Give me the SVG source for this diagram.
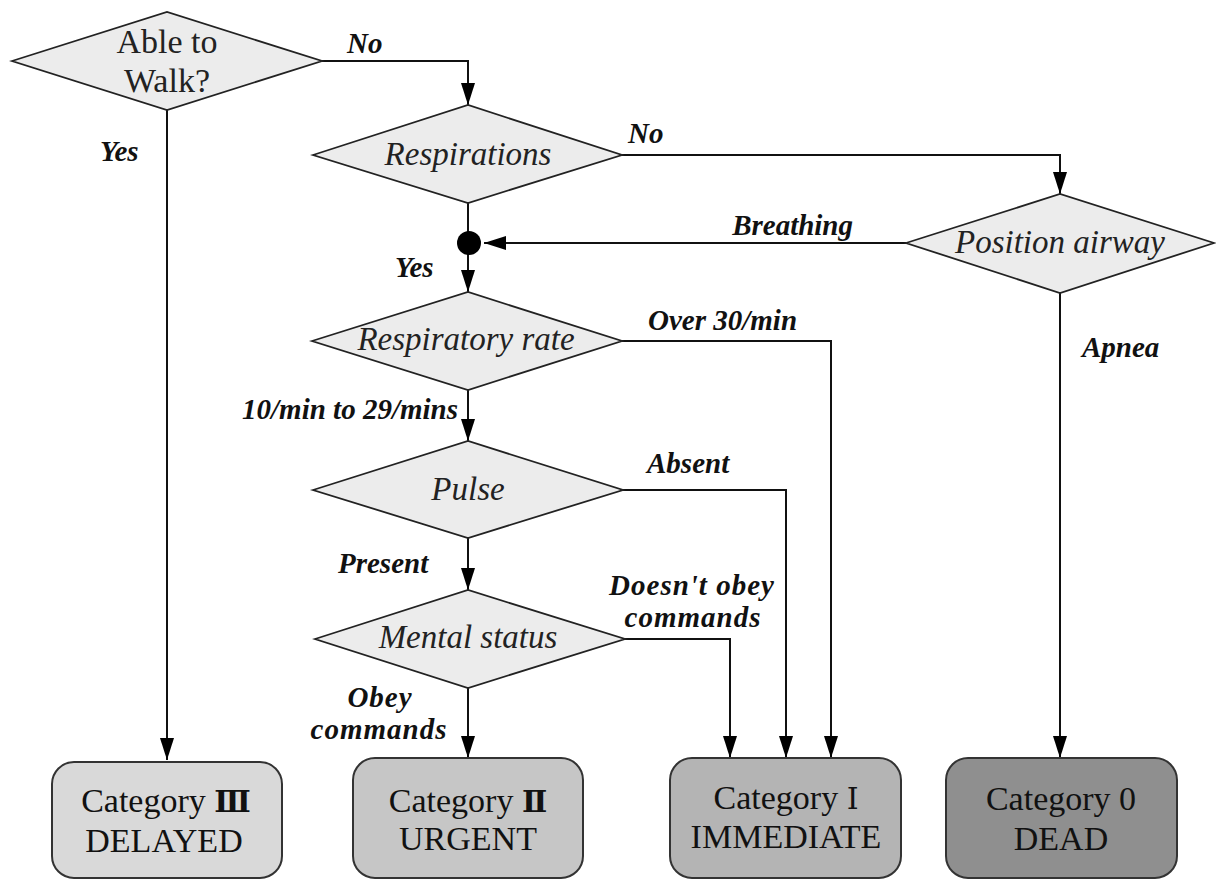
<svg xmlns="http://www.w3.org/2000/svg" width="1216" height="881" viewBox="0 0 1216 881">
<style>
.dia{fill:#ececec;stroke:#222;stroke-width:1.8}
.dt{font-family:'Liberation Serif',serif;font-style:italic;font-size:33px;fill:#222;text-anchor:middle}
.wt{font-family:'Liberation Serif',serif;font-size:34px;fill:#222;text-anchor:middle}
.lb{font-family:'Liberation Serif',serif;font-style:italic;font-weight:bold;font-size:29px;fill:#111}
.box{stroke:#333;stroke-width:2}
.bt{font-family:'Liberation Serif',serif;font-size:34px;fill:#111;text-anchor:middle}
.rn{font-family:'DejaVu Serif',serif;font-size:30px}
.ln{fill:none;stroke:#111;stroke-width:2}
</style>
<defs>
<marker id="arr" markerUnits="userSpaceOnUse" markerWidth="22" markerHeight="14" refX="22" refY="7" orient="auto">
<path d="M0,0 L22,7 L0,14 z" fill="#000"/>
</marker>
</defs>
<rect width="1216" height="881" fill="#fff"/>

<g id="connectors">
<polyline class="ln" points="322,61 468,61 468,105" marker-end="url(#arr)"/>
<line class="ln" x1="167" y1="110" x2="167" y2="760" marker-end="url(#arr)"/>
<polyline class="ln" points="622,155 1060,155 1060,194" marker-end="url(#arr)"/>
<line class="ln" x1="468" y1="203" x2="468" y2="243"/>
<line class="ln" x1="906" y1="243" x2="484" y2="243" marker-end="url(#arr)"/>
<line class="ln" x1="468" y1="243" x2="468" y2="292" marker-end="url(#arr)"/>
<polyline class="ln" points="622,341 831,341 831,758" marker-end="url(#arr)"/>
<line class="ln" x1="468" y1="390" x2="468" y2="441" marker-end="url(#arr)"/>
<polyline class="ln" points="623,490 786,490 786,758" marker-end="url(#arr)"/>
<line class="ln" x1="468" y1="538" x2="468" y2="590" marker-end="url(#arr)"/>
<polyline class="ln" points="625,639 730,639 730,758" marker-end="url(#arr)"/>
<line class="ln" x1="468" y1="688" x2="468" y2="758" marker-end="url(#arr)"/>
<line class="ln" x1="1060" y1="293" x2="1060" y2="758" marker-end="url(#arr)"/>
<circle cx="469" cy="243" r="12" fill="#000"/>
</g>

<g id="labels">
<text class="lb" x="347" y="53">No</text>
<text class="lb" x="100" y="161">Yes</text>
<text class="lb" x="628" y="143">No</text>
<text class="lb" x="853" y="235" text-anchor="end">Breathing</text>
<text class="lb" x="395" y="277">Yes</text>
<text class="lb" x="648" y="330">Over 30/min</text>
<text class="lb" x="1082" y="357">Apnea</text>
<text class="lb" x="458" y="419" text-anchor="end">10/min to 29/mins</text>
<text class="lb" x="647" y="473">Absent</text>
<text class="lb" x="338" y="573">Present</text>
<text class="lb" x="692" y="595" text-anchor="middle" letter-spacing="1">Doesn't obey</text>
<text class="lb" x="693" y="627" text-anchor="middle" letter-spacing="1">commands</text>
<text class="lb" x="380" y="707" text-anchor="middle" letter-spacing="1">Obey</text>
<text class="lb" x="379" y="739" text-anchor="middle" letter-spacing="1">commands</text>
</g>

<g id="walk">
<polygon class="dia" points="12,61 167,12 322,61 167,110"/>
<text class="wt" x="167" y="53">Able to</text>
<text class="wt" x="167" y="92">Walk?</text>
</g>
<g id="respirations">
<polygon class="dia" points="313,155 468,105 622,155 468,203"/>
<text class="dt" x="468" y="165">Respirations</text>
</g>
<g id="position-airway">
<polygon class="dia" points="906,243 1060,194 1214,243 1060,293"/>
<text class="dt" x="1060" y="253">Position airway</text>
</g>
<g id="respiratory-rate">
<polygon class="dia" points="312,341 468,292 622,341 468,390"/>
<text class="dt" x="466" y="350">Respiratory rate</text>
</g>
<g id="pulse">
<polygon class="dia" points="313,490 468,441 623,490 468,538"/>
<text class="dt" x="468" y="500">Pulse</text>
</g>
<g id="mental-status">
<polygon class="dia" points="315,639 468,590 625,639 468,688"/>
<text class="dt" x="468" y="648">Mental status</text>
</g>

<g id="cat3">
<rect class="box" x="52" y="762" width="230" height="116" rx="22" fill="#d9d9d9"/>
<text class="bt" x="166" y="812">Category <tspan class="rn" font-weight="bold">Ⅲ</tspan></text>
<text class="bt" x="164" y="852">DELAYED</text>
</g>
<g id="cat2">
<rect class="box" x="353" y="758" width="230" height="120" rx="22" fill="#c6c6c6"/>
<text class="bt" x="468" y="812">Category <tspan class="rn" font-weight="bold">Ⅱ</tspan></text>
<text class="bt" x="468" y="850">URGENT</text>
</g>
<g id="cat1">
<rect class="box" x="670" y="758" width="231" height="120" rx="22" fill="#b4b4b4"/>
<text class="bt" x="786" y="809">Category <tspan class="rn">Ⅰ</tspan></text>
<text class="bt" x="786" y="848">IMMEDIATE</text>
</g>
<g id="cat0">
<rect class="box" x="946" y="758" width="231" height="120" rx="22" fill="#8f8f8f"/>
<text class="bt" x="1061" y="810">Category 0</text>
<text class="bt" x="1061" y="850">DEAD</text>
</g>
</svg>
